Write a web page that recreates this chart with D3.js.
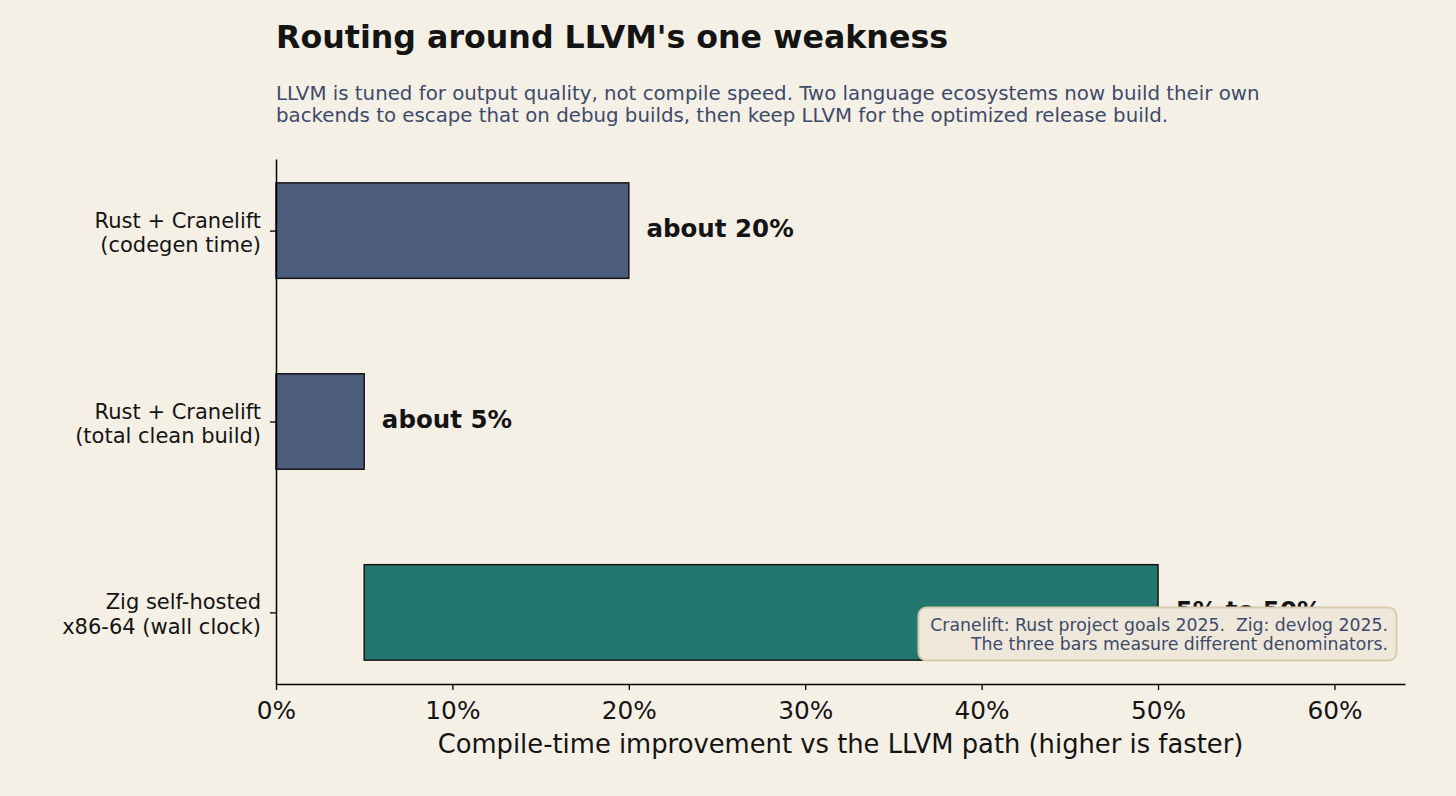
<!DOCTYPE html>
<html>
<head>
<meta charset="utf-8">
<script src="https://cdn.jsdelivr.net/npm/d3@7"></script>
<style>
  body { margin: 0; background: #f5f0e6; }
  svg { display: block; font-family: "DejaVu Sans", sans-serif; }
</style>
</head>
<body>
<div id="chart"></div>
<script>
/* Horizontal bar chart: compile-time gains from non-LLVM backends */

const categories = ["Rust + Cranelift\n(codegen time)", "Rust + Cranelift\n(total clean build)", "Zig self-hosted\nx86-64 (wall clock)"];
const ecosystems = ["Rust", "Rust", "Zig"];
const startValues = [0, 0, 5];
const endValues = [20, 5, 50];
const barLabels = ["about 20%", "about 5%", "5% to 50%"];
const xTicks = [0, 10, 20, 30, 40, 50, 60];

const title = "Routing around LLVM's one weakness";
const subtitle = ["LLVM is tuned for output quality, not compile speed. Two language ecosystems now build their own",
    "backends to escape that on debug builds, then keep LLVM for the optimized release build."];
const xTitle = "Compile-time improvement vs the LLVM path (higher is faster)";
const note = ["Cranelift: Rust project goals 2025.  Zig: devlog 2025.", "The three bars measure different denominators."];

const width = 1456,
    height = 796,
    margin = ({top: 159, right: 51, bottom: 112, left: 276});

const data = categories.map((c, i) => ({
    cat: c, eco: ecosystems[i], start: startValues[i], end: endValues[i], label: barLabels[i], i: i
}));

let svg = d3.select("#chart")
    .append("svg")
    .attr("width", width)
    .attr("height", height);

svg.append("rect").attr("width", width).attr("height", height).attr("fill", "#f5f0e6");

let x = d3.scaleLinear()
    .domain([0, 64])
    .range([margin.left, width - margin.right]);

let y = d3.scaleLinear()
    .domain([-0.375, 2.375])
    .range([margin.top, height - margin.bottom]);

let color = d3.scaleOrdinal()
    .domain(["Rust", "Zig"])
    .range(["#4c5d7d", "#23776e"]);

const barH = y(0.25) - y(-0.25);

// bars
svg.selectAll(".bar")
    .data(data)
    .join("rect")
    .attr("class", "bar")
    .attr("x", d => x(d.start))
    .attr("width", d => x(d.end) - x(d.start))
    .attr("y", d => y(d.i) - barH / 2)
    .attr("height", barH)
    .attr("fill", d => color(d.eco))
    .attr("stroke", "#161616")
    .attr("stroke-width", 1.5);

// value labels
svg.selectAll(".val")
    .data(data)
    .join("text")
    .attr("class", "val")
    .attr("x", d => x(d.end + 1))
    .attr("y", d => y(d.i))
    .attr("dy", "0.28em")
    .attr("font-size", 24.5)
    .attr("font-weight", "bold")
    .attr("fill", "#141414")
    .text(d => d.label);

// axes
const xAxis = g => g
    .attr("transform", `translate(0,${height - margin.bottom})`)
    .call(d3.axisBottom(x).tickValues(xTicks).tickFormat(d => d + "%").tickSize(6).tickSizeOuter(0).tickPadding(11))
    .call(g => g.select(".domain").attr("stroke-width", 1.5))
    .call(g => g.selectAll(".tick line").attr("stroke-width", 1.3))
    .call(g => g.selectAll(".tick text").attr("font-size", 24.8).attr("fill", "#141414").attr("font-family", "DejaVu Sans"));

const yAxis = g => g
    .attr("transform", `translate(${margin.left},0)`)
    .call(d3.axisLeft(y).tickValues([0, 1, 2]).tickFormat("").tickSize(6).tickSizeOuter(0))
    .call(g => g.select(".domain").attr("stroke-width", 1.5))
    .call(g => g.selectAll(".tick line").attr("stroke-width", 1.3));

svg.append("g").call(xAxis);
svg.append("g").call(yAxis);

// category labels, two lines each
svg.selectAll(".cat")
    .data(data)
    .join("text")
    .attr("class", "cat")
    .attr("x", margin.left - 15)
    .attr("y", d => y(d.i))
    .attr("text-anchor", "end")
    .attr("font-size", 21)
    .attr("fill", "#141414")
    .selectAll("tspan")
    .data(d => d.cat.split("\n").map((t, k) => ({t, k})))
    .join("tspan")
    .attr("x", margin.left - 15)
    .attr("dy", d => d.k === 0 ? "-0.14em" : "1.17em")
    .text(d => d.t);

// axis title
svg.append("text")
    .attr("x", (x(0) + x(64)) / 2)
    .attr("y", 753)
    .attr("text-anchor", "middle")
    .attr("font-size", 25.8)
    .attr("fill", "#141414")
    .text(xTitle);

// title + subtitle
svg.append("text")
    .attr("x", margin.left)
    .attr("y", 48)
    .attr("font-size", 31.7)
    .attr("font-weight", "bold")
    .attr("fill", "#141414")
    .text(title);

svg.append("g").selectAll("text")
    .data(subtitle)
    .join("text")
    .attr("x", margin.left)
    .attr("y", (d, i) => 100 + i * 21.5)
    .attr("font-size", 19.8)
    .attr("fill", "#3d4a6b")
    .text(d => d);

// source note box
const noteG = svg.append("g");
noteG.append("rect")
    .attr("x", 918.5)
    .attr("y", 607.5)
    .attr("width", 478)
    .attr("height", 53)
    .attr("rx", 8)
    .attr("fill", "#efe8da")
    .attr("stroke", "#d9cbad")
    .attr("stroke-width", 2);
noteG.selectAll("text")
    .data(note)
    .join("text")
    .attr("x", 1388)
    .attr("y", (d, i) => 630.5 + i * 19.5)
    .attr("text-anchor", "end")
    .attr("font-size", 17.3)
    .attr("fill", "#3d4a6b")
    .style("white-space", "pre")
    .text(d => d);
</script>
</body>
</html>
